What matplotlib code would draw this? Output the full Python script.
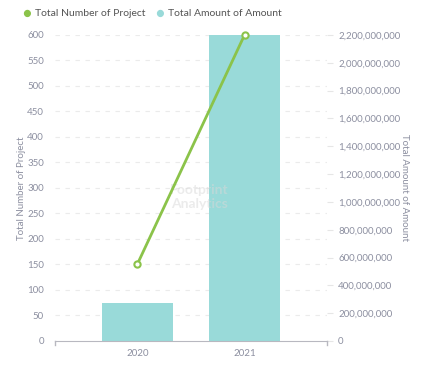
import matplotlib.pyplot as plt
from matplotlib.ticker import FuncFormatter
from matplotlib.transforms import blended_transform_factory

years = ['2020', '2021']
projects = [151, 600]
amounts = [273000000, 2210000000]

plt.rcParams['font.family'] = ['Lato', 'DejaVu Sans']
txt = '#8c8fa0'
green = '#8bc34a'
teal = '#99dad9'

fig = plt.figure(figsize=(4.24, 3.65), dpi=100)
ax = fig.add_axes([0.1297, 0.0658, 0.6415, 0.8384])
ax2 = ax.twinx()

x = range(len(years))
ax2.bar(x, amounts, width=0.67, color=teal, zorder=2)
ax.plot(x, projects, color=green, lw=2, marker='o', ms=4.5,
        mfc='white', mec=green, mew=1.5, zorder=5, clip_on=False)

ax.set_zorder(ax2.get_zorder() + 1)
ax.patch.set_visible(False)

ax.set_xlim(-0.77, 1.77)
ax.set_ylim(0, 600)
ax.set_yticks(range(0, 601, 50))
ax2.set_ylim(0, 2200000000)
ax2.set_yticks(range(0, 2200000001, 200000000))
ax2.yaxis.set_major_formatter(FuncFormatter(lambda v, p: f'{int(v):,}'))

ax.set_xticks(list(x))
ax.set_xticklabels(years)

# grid at the left-axis ticks, drawn behind the bars
gtr = blended_transform_factory(ax2.transAxes, ax.transData)
for v in ax.get_yticks()[1:]:
    ax2.plot([0, 1], [v, v], transform=gtr, color='#ebebeb',
             ls=(0, (4, 5)), lw=0.8, zorder=1)

for a in (ax, ax2):
    for s in ['top', 'left', 'right']:
        a.spines[s].set_visible(False)
    a.spines['bottom'].set_color('#b8b8c0')
ax2.spines['bottom'].set_visible(False)

# small end ticks on the category axis
for xe in (-0.77, 1.77):
    ax.plot([xe, xe], [0, -0.012], transform=ax.get_xaxis_transform(),
            color='#b8b8c0', lw=1, clip_on=False)

ax.tick_params(axis='y', length=0, labelsize=7, labelcolor=txt, pad=8)
ax.tick_params(axis='x', length=0, labelsize=7, labelcolor=txt, pad=6)
ax2.tick_params(axis='y', length=4, color='#e6e6e6', labelsize=7, labelcolor=txt, pad=4)

ax.set_ylabel('Total Number of Project', fontsize=7, color=txt, labelpad=0.5)
ax2.set_ylabel('Total Amount of Amount', fontsize=7, color=txt, rotation=270, labelpad=6)

# watermark
ax.text(0.53, 0.47, 'Footprint\nAnalytics', transform=ax.transAxes, ha='center',
        va='center', fontsize=10, fontweight='bold', color='#d8d8d8', alpha=0.5, zorder=0)

# legend
fig.text(0.052, 0.962, '●', color=green, fontsize=10.5, va='center')
fig.text(0.083, 0.962, 'Total Number of Project', color='#555', fontsize=7.5, va='center')
fig.text(0.365, 0.962, '●', color=teal, fontsize=10.5, va='center')
fig.text(0.396, 0.962, 'Total Amount of Amount', color='#555', fontsize=7.5, va='center')

fig.savefig('out.png', dpi=100)
